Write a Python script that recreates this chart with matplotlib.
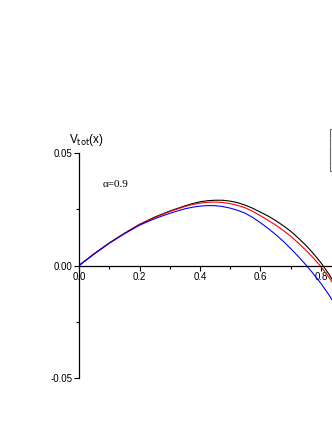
import matplotlib
matplotlib.use("Agg")
import matplotlib.pyplot as plt

plt.rcParams['font.family'] = ['Liberation Sans', 'DejaVu Sans']

# values
x = [0.0, 0.05, 0.1, 0.15, 0.2, 0.25, 0.3, 0.35, 0.375, 0.4, 0.425, 0.45, 0.475, 0.5,
     0.525, 0.55, 0.575, 0.6, 0.625, 0.65, 0.675, 0.7, 0.725, 0.75, 0.775, 0.8, 0.825, 0.85]
v_black = [0.0, 0.0052, 0.0100, 0.0143, 0.0183, 0.0215, 0.0242, 0.0265, 0.0275, 0.0283, 0.0288,
           0.0290, 0.0290, 0.0286, 0.0279, 0.0268, 0.0254, 0.0237, 0.0220, 0.0200, 0.0177,
           0.0152, 0.0122, 0.0090, 0.0053, 0.0012, -0.0036, -0.0090]
v_red = [0.0, 0.0052, 0.0100, 0.0143, 0.0182, 0.0213, 0.0240, 0.0262, 0.0271, 0.0277, 0.0281,
         0.0282, 0.0280, 0.0275, 0.0267, 0.0256, 0.0240, 0.0221, 0.0201, 0.0180, 0.0156,
         0.0130, 0.0100, 0.0068, 0.0033, -0.0005, -0.0050, -0.0100]
v_blue = [0.0, 0.0051, 0.0099, 0.0141, 0.0179, 0.0208, 0.0232, 0.0252, 0.0259, 0.0264, 0.0266,
          0.0266, 0.0262, 0.0255, 0.0245, 0.0232, 0.0213, 0.0190, 0.0165, 0.0138, 0.0108,
          0.0075, 0.0040, 0.0003, -0.0037, -0.0080, -0.0128, -0.0180]
series = [(v_black, 'black'), (v_red, 'red'), (v_blue, 'blue')]

xticks = [0.0, 0.2, 0.4, 0.6, 0.8]
yticks = [-0.05, 0.0, 0.05]

fig = plt.figure(figsize=(3.32, 4.30), dpi=100)
ax = fig.add_axes([0.238, 0.1209, 0.911, 0.5233])

handles = []
for v, c in series:
    h, = ax.plot(x, v, color=c, lw=0.8)
    handles.append(h)

ax.set_xlim(0, 1.0)
ax.set_ylim(-0.05, 0.05)
ax.spines['top'].set_visible(False)
ax.spines['right'].set_visible(False)
ax.spines['bottom'].set_position(('data', 0))
ax.spines['left'].set_linewidth(0.9)
ax.spines['bottom'].set_linewidth(0.9)

ax.set_xticks(xticks)
ax.set_xticklabels(['%.1f' % t for t in xticks])
ax.set_xticks([0.1, 0.3, 0.5, 0.7, 0.9], minor=True)
ax.set_yticks(yticks)
ax.set_yticklabels(['%.2f' % t for t in yticks])
ax.set_yticks([-0.025, 0.025], minor=True)
ax.tick_params(which='major', direction='out', length=3.5, width=0.8, labelsize=7, pad=1.5)
ax.tick_params(which='minor', direction='out', length=2.5, width=0.8)

ax.text(0.079, 0.0358, 'α=0.9', fontsize=8, family=['Liberation Serif', 'DejaVu Serif'],
        va='center', ha='left')
fig.text(0.208, 0.655, r'V$_{\rm tot}$(x)', fontsize=8.5, ha='left', va='bottom')

# legend box sits mostly beyond the right edge, as in the reference
leg = ax.legend(handles, ['', '', ''], loc='upper left',
                bbox_to_anchor=(330 / 332, 1 - 129 / 430), bbox_transform=fig.transFigure,
                fontsize=7, frameon=True, fancybox=False, borderpad=0.2,
                borderaxespad=0, handlelength=2.5, labelspacing=0.4)
leg.get_frame().set_edgecolor('#444444')
leg.get_frame().set_linewidth(0.8)

fig.savefig('out.png', dpi=100)
